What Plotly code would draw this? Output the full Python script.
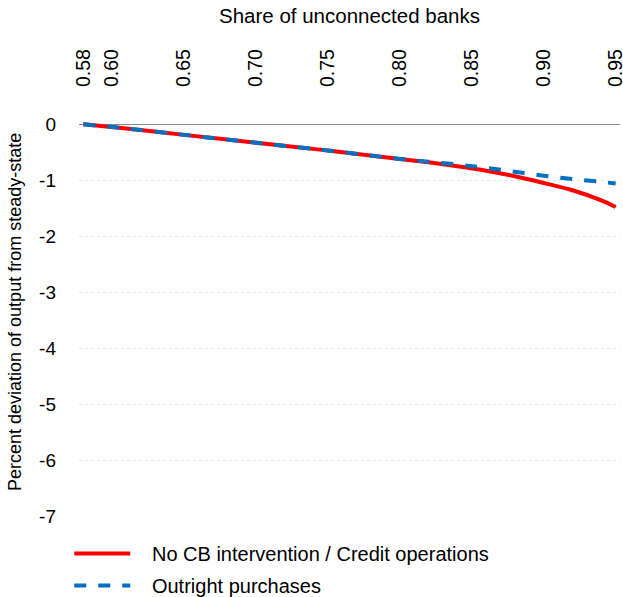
import plotly.graph_objects as go

share = [0.58, 0.60, 0.65, 0.70, 0.75, 0.80, 0.82, 0.84, 0.86, 0.88, 0.90, 0.92, 0.94, 0.95]
no_cb = [0.0, -0.05, -0.19, -0.33, -0.47, -0.62, -0.68, -0.75, -0.83, -0.93, -1.05, -1.18, -1.36, -1.48]
outright = [0.0, -0.05, -0.19, -0.33, -0.47, -0.62, -0.67, -0.72, -0.78, -0.85, -0.92, -0.98, -1.03, -1.06]

x_ticks = [0.58, 0.60, 0.65, 0.70, 0.75, 0.80, 0.85, 0.90, 0.95]
x_labels = ["0.58", "0.60", "0.65", "0.70", "0.75", "0.80", "0.85", "0.90", "0.95"]
y_ticks = [0, -1, -2, -3, -4, -5, -6, -7]
y_labels = ["0", "-1", "-2", "-3", "-4", "-5", "-6", "-7"]

font = "Liberation Sans, Arial, sans-serif"
pad = "\u00a0\u00a0\u00a0"

fig = go.Figure()
fig.add_trace(go.Scatter(x=share, y=no_cb, mode="lines", name=pad + "No CB intervention / Credit operations",
                         legendgroup="a",
                         line=dict(color="#ff0000", width=4, shape="spline")))
fig.add_trace(go.Scatter(x=share, y=outright, mode="lines", name=pad + "Outright purchases",
                         legendgroup="b",
                         line=dict(color="#0070c0", width=4, dash="dash", shape="spline")))

fig.update_layout(
    width=623, height=597,
    margin=dict(l=79, r=3, t=122, b=81),
    paper_bgcolor="white", plot_bgcolor="white",
    font=dict(family=font, size=19, color="black"),
    showlegend=True,
    legend=dict(x=-0.018, xref="paper", y=0.1055, yref="container", xanchor="left", yanchor="top",
                font=dict(size=20), itemwidth=56, tracegroupgap=3, bgcolor="rgba(0,0,0,0)"),
    xaxis=dict(side="top", range=[0.577, 0.953], tickvals=x_ticks, ticktext=x_labels,
               tickangle=-90, showgrid=False, zeroline=False, showline=False, ticks="",
               automargin=False, ticklabeloverflow="allow", ticklabelstandoff=34,
               title=dict(text="Share of unconnected banks", font=dict(size=20.5), standoff=19),
               tickfont=dict(size=19.5)),
    yaxis=dict(range=[-7, 0.04], tickvals=y_ticks, ticktext=y_labels, showgrid=True,
               gridcolor="#e6e6e6", griddash="dot", gridwidth=1,
               zeroline=True, zerolinecolor="#8c8c8c", zerolinewidth=1.3,
               showline=False, ticks="", automargin=False, ticklabelstandoff=22,
               tickfont=dict(size=19)),
    annotations=[dict(text="Percent deviation of output from steady-state", textangle=-90,
                      xref="paper", yref="paper", x=-(79 - 15) / 541, y=(516 - 312) / 394,
                      xanchor="center", yanchor="middle", showarrow=False,
                      font=dict(size=18))],
)

fig.write_html("out.html", config={"displayModeBar": False},
               post_script="document.body.style.margin='0';")
